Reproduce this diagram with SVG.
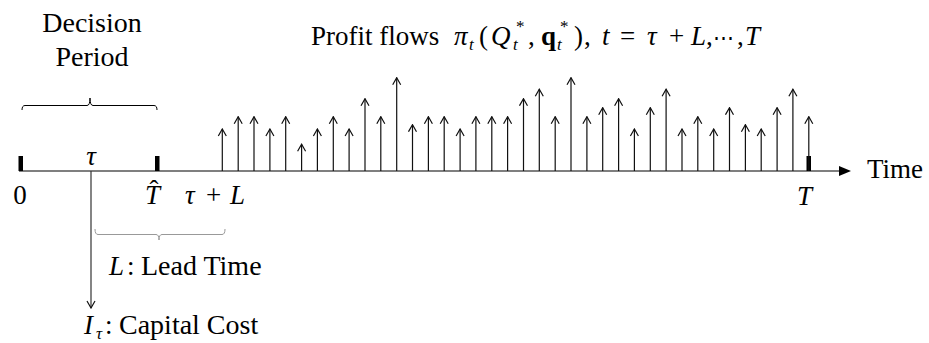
<svg xmlns="http://www.w3.org/2000/svg" width="929" height="343" viewBox="0 0 929 343">
<style>
text { font-family: 'Liberation Serif', serif; font-size: 27px; fill: #000; }
.big { font-size: 28px; }
.it { font-style: italic; }
.sub { font-size: 17px; }
.bf { font-weight: bold; }
.mid { text-anchor: middle; }
.dots { font-family: 'DejaVu Serif', serif; font-size: 21px; }
.flow { stroke: #111; stroke-width: 1.2; fill: none; marker-end: url(#open); }
.axis { stroke: #555; stroke-width: 1.4; fill: none; }
.tick { fill: #000; }
.brace { fill: none; stroke: #000; stroke-width: 1; }
.brace2 { fill: none; stroke: #999; stroke-width: 1; }
</style>
<defs>
<marker id="open" markerUnits="userSpaceOnUse" viewBox="-9 -5 10 10" refX="0" refY="0" markerWidth="10" markerHeight="10" orient="auto">
<path d="M-7,-4 L0,0 L-7,4" fill="none" stroke="#111" stroke-width="1.2"/>
</marker>
</defs>

<g id="title">
<text x="311" y="45">Profit flows</text>
<text x="454" y="45" class="it">π</text>
<text x="469" y="50" class="it sub">t</text>
<text x="479" y="45">(</text>
<text x="491" y="45" class="it">Q</text>
<text x="513" y="50" class="it sub">t</text>
<text x="516" y="32" class="sub">*</text>
<text x="528" y="45">,</text>
<text x="541" y="45" class="bf">q</text>
<text x="557" y="50" class="it sub">t</text>
<text x="560" y="32" class="sub">*</text>
<text x="574" y="45">)</text>
<text x="584" y="45">,</text>
<text x="602" y="45" class="it">t</text>
<text x="620" y="45">=</text>
<text x="647" y="45" class="it">τ</text>
<text x="669" y="45">+</text>
<text x="691" y="45" class="it">L</text>
<text x="706" y="45">,</text>
<text x="713" y="45" class="dots">⋯</text>
<text x="737" y="45">,</text>
<text x="745" y="45" class="it">T</text>
</g>

<g id="decision-period">
<text x="92" y="32" class="mid big">Decision</text>
<text x="92" y="66" class="mid big">Period</text>
<path class="brace" d="M22,110 Q22,105.5 25,105.5 L87,105.5 Q90,105.5 90,98 Q90,105.5 93,105.5 L154,105.5 Q157,105.5 157,110"/>
</g>

<g id="time-axis">
<line class="axis" x1="19" y1="171" x2="842" y2="171"/>
<polygon points="839,166 851,171 839,176" fill="#000"/>
<rect class="tick" x="18.5" y="156" width="4.5" height="15"/>
<rect class="tick" x="155" y="156" width="4.5" height="15"/>
<rect class="tick" x="806.5" y="156" width="4.5" height="15"/>
<text x="867" y="178">Time</text>
<text x="20" y="204" class="mid">0</text>
<text x="91" y="165" class="mid it">τ</text>
<text x="145" y="204" class="it">T</text>
<text x="154" y="199" class="mid">ˆ</text>
<text x="185" y="204" class="it">τ</text>
<text x="206" y="204">+</text>
<text x="230" y="204" class="it">L</text>
<text x="797" y="205" class="it">T</text>
</g>

<g id="lead-time">
<path class="brace2" d="M95,229 Q95,234.5 98,234.5 L156,234.5 Q159,234.5 159,240 Q159,234.5 162,234.5 L222,234.5 Q225,234.5 225,229"/>
<text x="109" y="275" class="it">L</text>
<text x="127" y="275">:</text>
<text x="141" y="275" class="big">Lead Time</text>
</g>

<g id="capital-cost">
<text x="84" y="334" class="it">I</text>
<text x="96" y="339" class="it sub">τ</text>
<text x="105" y="334">:</text>
<text x="119" y="334" class="big">Capital Cost</text>
</g>

<g id="connectors">
<line class="flow" x1="91" y1="171" x2="91" y2="308" style="stroke:#333"/>
<line class="flow" x1="222.3" y1="171" x2="222.3" y2="129"/>
<line class="flow" x1="238.2" y1="171" x2="238.2" y2="116.7"/>
<line class="flow" x1="254" y1="171" x2="254" y2="116.7"/>
<line class="flow" x1="269.9" y1="171" x2="269.9" y2="129"/>
<line class="flow" x1="285.7" y1="171" x2="285.7" y2="116.7"/>
<line class="flow" x1="301.6" y1="171" x2="301.6" y2="144.3"/>
<line class="flow" x1="317.4" y1="171" x2="317.4" y2="129"/>
<line class="flow" x1="333.3" y1="171" x2="333.3" y2="116.7"/>
<line class="flow" x1="349.1" y1="171" x2="349.1" y2="129"/>
<line class="flow" x1="365" y1="171" x2="365" y2="98.7"/>
<line class="flow" x1="380.8" y1="171" x2="380.8" y2="116.7"/>
<line class="flow" x1="396.7" y1="171" x2="396.7" y2="77.7"/>
<line class="flow" x1="412.5" y1="171" x2="412.5" y2="124.7"/>
<line class="flow" x1="428.4" y1="171" x2="428.4" y2="116.7"/>
<line class="flow" x1="444.2" y1="171" x2="444.2" y2="116.7"/>
<line class="flow" x1="460.1" y1="171" x2="460.1" y2="129"/>
<line class="flow" x1="475.9" y1="171" x2="475.9" y2="116.7"/>
<line class="flow" x1="491.8" y1="171" x2="491.8" y2="116.7"/>
<line class="flow" x1="507.6" y1="171" x2="507.6" y2="116.7"/>
<line class="flow" x1="523.5" y1="171" x2="523.5" y2="98.7"/>
<line class="flow" x1="539.3" y1="171" x2="539.3" y2="89.3"/>
<line class="flow" x1="555.2" y1="171" x2="555.2" y2="116.7"/>
<line class="flow" x1="571" y1="171" x2="571" y2="77.7"/>
<line class="flow" x1="586.9" y1="171" x2="586.9" y2="116.7"/>
<line class="flow" x1="602.7" y1="171" x2="602.7" y2="107.7"/>
<line class="flow" x1="618.6" y1="171" x2="618.6" y2="98.7"/>
<line class="flow" x1="634.4" y1="171" x2="634.4" y2="129"/>
<line class="flow" x1="650.3" y1="171" x2="650.3" y2="107.7"/>
<line class="flow" x1="666.1" y1="171" x2="666.1" y2="89.3"/>
<line class="flow" x1="682" y1="171" x2="682" y2="129"/>
<line class="flow" x1="697.8" y1="171" x2="697.8" y2="116.7"/>
<line class="flow" x1="713.7" y1="171" x2="713.7" y2="129"/>
<line class="flow" x1="729.5" y1="171" x2="729.5" y2="107.7"/>
<line class="flow" x1="745.4" y1="171" x2="745.4" y2="124.7"/>
<line class="flow" x1="761.2" y1="171" x2="761.2" y2="129"/>
<line class="flow" x1="777.1" y1="171" x2="777.1" y2="107.7"/>
<line class="flow" x1="792.9" y1="171" x2="792.9" y2="89.3"/>
<line class="flow" x1="808.8" y1="171" x2="808.8" y2="116.7"/>
</g>
</svg>
